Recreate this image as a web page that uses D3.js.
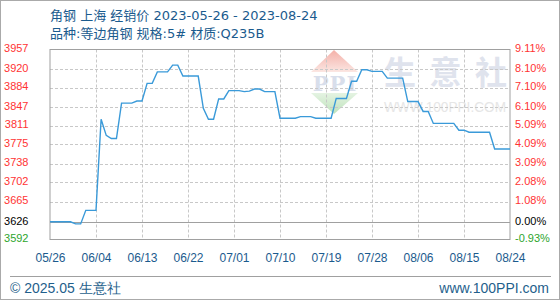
<!DOCTYPE html>
<html><head><meta charset="utf-8">
<script src="https://cdn.jsdelivr.net/npm/d3@7"></script>
<style>
html,body{margin:0;padding:0;background:#fff;}
svg{display:block;}
</style></head>
<body>
<svg id="chart" width="560" height="300"></svg>
<script>
// ---- data ----
const titleLine1 = "角钢 上海 经销价 2023-05-26 - 2023-08-24";
const titleLine2 = "品种:等边角钢 规格:5# 材质:Q235B";
const startDate = "2023-05-26";
const endDate = "2023-08-24";
// daily prices from 05/26 to 08/24
const prices = [
  3626,3626,3626,3626,3626,3622,3622,3648,3648,3648,
  3823,3792,3786,3786,3854,3854,3854,3858,3858,3892,
  3892,3914,3914,3914,3927,3927,3906,3906,3906,3906,
  3844,3823,3823,3862,3862,3878,3878,3878,3876,3877,
  3881,3881,3876,3876,3876,3825,3825,3825,3825,3828,
  3828,3828,3825,3825,3825,3825,3863,3863,3863,3896,
  3896,3918,3918,3915,3915,3915,3902,3902,3902,3902,
  3857,3857,3857,3838,3838,3815,3815,3815,3815,3815,
  3802,3802,3798,3798,3798,3798,3798,3766,3766,3766,3766
];
const yTickValues = [3592,3626,3665,3702,3738,3775,3811,3847,3884,3920,3957];
const yTickLabels = ["3592","3626","3665","3702","3738","3775","3811","3847","3884","3920","3957"];
const pctLabels = ["-0.93%","0.00%","1.08%","2.08%","3.09%","4.09%","5.09%","6.10%","7.10%","8.10%","9.11%"];
const xTickLabels = ["05/26","06/04","06/13","06/22","07/01","07/10","07/19","07/28","08/06","08/15","08/24"];
const baseValue = 3626;
const footerLeft = "© 2025.05 生意社";
const footerRight = "www.100PPI.com";
const wmChars = ["生","意","社"];
const wmUrl = "WWW.100PPI.COM";

// ---- layout ----
const svg = d3.select("#chart");
const L = 50, R = 510, T = 49.5, B = 239.5;
const parse = d3.timeParse("%Y-%m-%d");
const d0 = parse(startDate), d1 = parse(endDate);
const dates = prices.map((_, i) => d3.timeDay.offset(d0, i));
const data = prices.map((v, i) => ({date: dates[i], value: v}));

const x = d3.scaleTime().domain([d0, d1]).range([L, R]);
const y = d3.scaleLinear().domain([3592, 3957]).range([B, T]);
const xTickDates = xTickLabels.map((_, i) => d3.timeDay.offset(d0, i * 9));

const titleColor = "#1b5b8e";
const latin = "'DejaVu Sans','Noto Sans CJK SC',sans-serif";
const arial = "'Liberation Sans',Arial,sans-serif";

// outer frame
svg.append("rect").attr("x",0.5).attr("y",0.5).attr("width",559).attr("height",299)
  .attr("fill","none").attr("stroke","#aaa");

// title
svg.append("text").attr("x",50).attr("y",20).attr("fill",titleColor)
  .attr("font-family",latin).attr("font-size",13).text(titleLine1);
svg.append("text").attr("x",50).attr("y",37.5).attr("fill",titleColor)
  .attr("font-family",latin).attr("font-size",13).text(titleLine2);

// watermark
const defs = svg.append("defs");
const gr = defs.append("linearGradient").attr("id","gRed").attr("x1",0).attr("y1",0).attr("x2",0).attr("y2",1);
gr.append("stop").attr("offset","0%").attr("stop-color","#f4b0a8");
gr.append("stop").attr("offset","100%").attr("stop-color","#fbe6e2");
const gg = defs.append("linearGradient").attr("id","gGreen").attr("x1",0).attr("y1",0).attr("x2",0).attr("y2",1);
gg.append("stop").attr("offset","0%").attr("stop-color","#e4f3e2");
gg.append("stop").attr("offset","100%").attr("stop-color","#bfe3bc");
const wm = svg.append("g");
wm.append("path").attr("d","M334,50 L358,72 L311,72 Z").attr("fill","url(#gRed)");
wm.append("path").attr("d","M311,93 L358,93 L334,114 Z").attr("fill","url(#gGreen)");
wm.append("text").attr("x",335).attr("y",91).attr("text-anchor","middle")
  .attr("font-family","'DejaVu Serif',serif").attr("font-weight","bold").attr("font-size",21)
  .attr("fill","#d8deeb").attr("letter-spacing",1).text("PPI");
wmChars.forEach((c, i) => {
  wm.append("text").attr("x",400 + i*45.5).attr("y",84).attr("text-anchor","middle")
    .attr("font-family","'Noto Sans CJK SC',sans-serif").attr("font-weight","bold").attr("font-size",32)
    .attr("fill","#dfe3ed").text(c);
});
wm.append("text").attr("x",384).attr("y",112)
  .attr("font-family",arial).attr("font-size",14).attr("fill","#e6e6e6")
  .attr("textLength",122).attr("lengthAdjust","spacingAndGlyphs").text(wmUrl);

// grid
const grid = svg.append("g");
xTickDates.slice(1, -1).forEach(d => {
  const xx = Math.round(x(d)) + 0.5;
  grid.append("line").attr("x1",xx).attr("x2",xx).attr("y1",T).attr("y2",B)
    .attr("stroke","#c8c8c8").attr("stroke-dasharray","3,2");
});
yTickValues.forEach(v => {
  if (v === 3592 || v === 3957 || v === baseValue) return;
  const yy = Math.round(y(v)) + 0.5;
  grid.append("line").attr("x1",L).attr("x2",R).attr("y1",yy).attr("y2",yy)
    .attr("stroke","#c8c8c8").attr("stroke-dasharray","3,2");
});
// base line
const yb = Math.round(y(baseValue)) + 0.5;
grid.append("line").attr("x1",L).attr("x2",R).attr("y1",yb).attr("y2",yb)
  .attr("stroke","#a0a0a0").attr("stroke-width",1.2);
// plot frame
svg.append("rect").attr("x",L).attr("y",T).attr("width",R-L).attr("height",B-T)
  .attr("fill","none").attr("stroke","#a0a0a0");

// line
const line = d3.line().x(d => x(d.date)).y(d => y(d.value));
svg.append("path").datum(data).attr("d",line).attr("fill","none")
  .attr("stroke","#3a9ad9").attr("stroke-width",1.4);

// y labels
const colorFor = v => v === baseValue ? "#000" : (v < baseValue ? "#2da52d" : "#ff3333");
yTickValues.forEach((v, i) => {
  const yy = y(v) + 2.8;
  svg.append("text").attr("x",28.5).attr("y",yy).attr("text-anchor","end")
    .attr("font-family",arial).attr("font-size",11).attr("fill",colorFor(v)).text(yTickLabels[i]);
  svg.append("text").attr("x",515).attr("y",yy)
    .attr("font-family",arial).attr("font-size",11).attr("fill",colorFor(v)).text(pctLabels[i]);
});

// x labels via axis
const xAxis = d3.axisBottom(x).tickValues(xTickDates).tickFormat((d, i) => xTickLabels[i]).tickSize(0);
const ax = svg.append("g").attr("transform",`translate(0,${B})`).call(xAxis);
ax.select(".domain").remove();
ax.selectAll("text").attr("font-family",arial).attr("font-size",12).attr("fill","#1b5b8e")
  .attr("dy",0).attr("y",22.5);

// footer
svg.append("line").attr("x1",10).attr("x2",551).attr("y1",276.5).attr("y2",276.5)
  .attr("stroke","#a0a0a0");
svg.append("text").attr("x",10).attr("y",293).attr("fill","#1f5f8c")
  .attr("font-family",arial).attr("font-size",14).text(footerLeft);
svg.append("text").attr("x",549).attr("y",293).attr("text-anchor","end").attr("fill","#1f5f8c")
  .attr("font-family",arial).attr("font-size",14).text(footerRight);
</script>
</body></html>
